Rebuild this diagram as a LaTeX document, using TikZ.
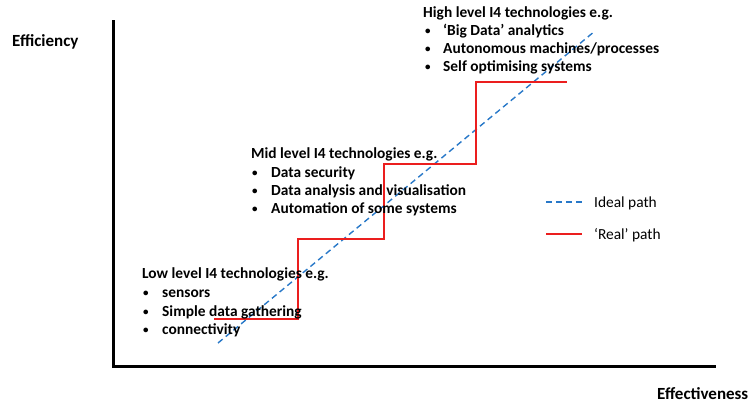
\documentclass[tikz,border=0pt]{standalone}
\usepackage{fontspec}
\setmainfont{Carlito}
\newcommand{\smallbullet}{\raisebox{0.6bp}{\fontsize{11bp}{11bp}\selectfont\textbullet}}
\begin{document}
\begin{tikzpicture}[x=1bp,y=-1bp,
  txt/.style={anchor=base west, inner sep=0pt, font=\fontsize{15.4bp}{18bp}\selectfont\bfseries},
  axislbl/.style={anchor=base west, inner sep=0pt, font=\fontsize{17bp}{20bp}\selectfont\bfseries},
  legtxt/.style={anchor=base west, inner sep=0pt, font=\fontsize{15.4bp}{18bp}\selectfont},
  axis/.style={line width=3bp, line cap=rect},
  ideal/.style={draw={rgb,255:red,40;green,120;blue,200}, line width=1.4bp, dash pattern=on 6bp off 4bp},
  realpath/.style={draw={rgb,255:red,235;green,30;blue,30}, line width=1.5bp}]
\useasboundingbox (0,0) rectangle (752,404);

% axes
\coordinate (top) at (113,21);
\coordinate (origin) at (113,366);
\coordinate (right) at (714,366);
\draw[axis] (top) -- (origin) -- (right);
\node[axislbl] (ylab) at (12,46) {Efficiency};
\node[axislbl] (xlab) at (657,399) {Effectiveness};

% ideal path
\coordinate (i0) at (218,343);
\coordinate (i1) at (595,31);
\draw[ideal] (i0) -- (i1);

% real path (staircase)
\coordinate (r0) at (214,319);
\coordinate (r1) at (298,319);
\coordinate (r2) at (298,239);
\coordinate (r3) at (384,239);
\coordinate (r4) at (384,164);
\coordinate (r5) at (476,164);
\coordinate (r6) at (476,82);
\coordinate (r7) at (567,82);
\draw[realpath] (r0) -- (r1) -- (r2) -- (r3) -- (r4) -- (r5) -- (r6) -- (r7);

% low level
\node[txt] (lowh) at (142,278) {Low level I4 technologies e.g.};
\node[txt] (lowb1) at (143,297) {\smallbullet};
\node[txt] (lowb2) at (143,316) {\smallbullet};
\node[txt] (lowb3) at (143,334) {\smallbullet};
\node[txt] (low1) at (162,297) {sensors};
\node[txt] (low2) at (162,316) {Simple data gathering};
\node[txt] (low3) at (162,334) {connectivity};

% mid level
\node[txt] (midh) at (251,158) {Mid level I4 technologies e.g.};
\node[txt] (midb1) at (252,177) {\smallbullet};
\node[txt] (midb2) at (252,195) {\smallbullet};
\node[txt] (midb3) at (252,213) {\smallbullet};
\node[txt] (mid1) at (271,177) {Data security};
\node[txt] (mid2) at (271,195) {Data analysis and visualisation};
\node[txt] (mid3) at (271,213) {Automation of some systems};

% high level
\node[txt] (highh) at (423,17) {High level I4 technologies e.g.};
\node[txt] (highb1) at (425,35) {\smallbullet};
\node[txt] (highb2) at (425,53) {\smallbullet};
\node[txt] (highb3) at (425,71) {\smallbullet};
\node[txt] (high1) at (443,35) {‘Big Data’ analytics};
\node[txt] (high2) at (443,53) {Autonomous machines/processes};
\node[txt] (high3) at (443,71) {Self optimising systems};

% legend
\coordinate (la) at (546,202);
\coordinate (lb) at (582,202);
\coordinate (lc) at (546,234);
\coordinate (ld) at (582,234);
\draw[ideal] (la) -- (lb);
\draw[realpath] (lc) -- (ld);
\node[legtxt] (legi) at (594,207) {Ideal path};
\node[legtxt] (legr) at (594,239) {‘Real’ path};
\end{tikzpicture}
\end{document}
